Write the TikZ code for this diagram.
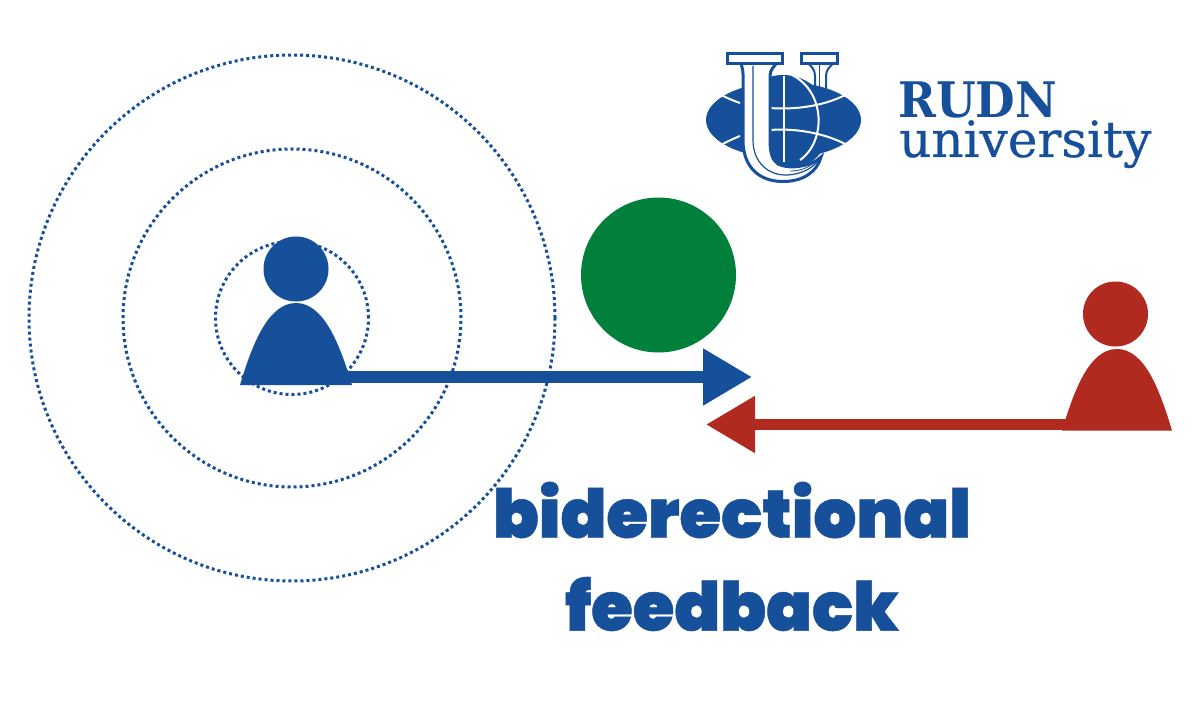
\documentclass[tikz,border=0pt]{standalone}
\usepackage{fontspec}
\usetikzlibrary{arrows.meta}
\setmainfont{Liberation Sans}
\newfontfamily\heavyfont[FakeBold=0.7]{Poppins Black}
\newfontfamily\slabfont{DejaVu Serif}
\newfontfamily\slabmedfont[FakeBold=0.5]{DejaVu Serif}
\definecolor{rblue}{HTML}{164F9A}
\definecolor{rgreen}{HTML}{00803B}
\definecolor{rred}{HTML}{B02A1F}
\tikzset{
  ring/.style={draw=rblue,line width=3pt,dash pattern=on 3pt off 3pt,circle,minimum size=#1,inner sep=0pt},
  head/.style={fill=#1,circle,minimum size=65pt,inner sep=0pt},
  flow/.style={draw=#1,line width=11.5pt,-{Triangle[length=49pt,width=54pt,fill=#1]}},
  title/.style={text=rblue,inner sep=0pt,font=\heavyfont\fontsize{67.5}{67.5}\selectfont},
  logobar/.style={draw=rblue,fill=white,line width=3pt},
  globeline/.style={draw=white,line width=2pt}
}
\begin{document}
\begin{tikzpicture}[x=1pt,y=-1pt]
\useasboundingbox (0,0) rectangle (1200,722);
% rings
\node[ring=526pt] (r3) at (292,318) {};
\node[ring=338pt] (r2) at (292,318) {};
\node[ring=153pt] (r1) at (292,318) {};
% blue person
\node[head=rblue] (bhead) at (296,269) {};
\fill[rblue] (240,385) .. controls (252,345) and (268,303) .. (296,303) .. controls (324,303) and (340,345) .. (352,385) -- cycle;
\coordinate (bbody) at (340,377);
% red person
\node[head=rred] (rhead) at (1115.5,314) {};
\fill[rred] (1062,430.5) .. controls (1074,391) and (1089,349) .. (1117,349) .. controls (1145,349) and (1160,391) .. (1172,430.5) -- cycle;
\coordinate (rbody) at (1070,424.5);
% green
\node[fill=rgreen,circle,minimum size=155pt,inner sep=0pt] (topic) at (658.5,275) {};
% arrows
\coordinate (bend) at (752,377);
\coordinate (rend) at (706,424.5);
\draw[flow=rblue] (bbody) -- (bend);
\draw[flow=rred] (rbody) -- (rend);
% title
\node[title] (t1) at (732,510) {biderectional};
\node[title] (t2) at (732,604) {feedback};
% logo: right stem of the letter
\draw[draw=rblue,fill=white,line width=2pt] (806,62) .. controls (812,66) and (815,70) .. (815,76) -- (815,92) -- (826,92) -- (826,76) .. controls (826,70) and (830,66) .. (835,62) -- cycle;
\draw[rblue,line width=1pt] (819,64) -- (819,90);
% logo: globe
\fill[rblue] (783.5,120) ellipse [x radius=77.5,y radius=38];
\fill[rblue] (783,123) circle [radius=48];
% parallels and meridians
\draw[globeline] (719,94) .. controls (727,98) and (734,101) .. (740,103);
\draw[globeline] (770,108) .. controls (795,110) and (825,106) .. (847,94);
\draw[globeline] (721,145) .. controls (728,141) and (735,138) .. (740,136);
\draw[globeline] (770,130) .. controls (795,128) and (825,133) .. (847,145);
\draw[globeline] (783.5,76) -- (783.5,162);
\draw[globeline] (792,75) .. controls (826,92) and (826,142) .. (800,160);
% logo: letter U
\draw[logobar] (741,62) .. controls (741,66) and (743,68) .. (743,74) -- (743,140) .. controls (743,168) and (760,181.5) .. (783,181.5) .. controls (803,181.5) and (817,172) .. (821,157)
  .. controls (812,166) and (790,170) .. (778,164) .. controls (772,160) and (770,152) .. (770,140) -- (770,76) .. controls (770,70) and (774,66) .. (778,62) -- cycle;
\draw[rblue,line width=1.2pt] (753,66) -- (753,140) .. controls (753,162) and (768,176) .. (788,175) .. controls (800,174) and (810,170) .. (817,162);
\draw[rblue,line width=.8pt] (790,171) .. controls (800,171) and (808,168) .. (815,162);
\draw[logobar] (727,53.5) rectangle (782,63.5);
\draw[logobar] (801,53.5) rectangle (837,63.5);
% logo: text
\node[text=rblue,inner sep=0pt,anchor=base west,font=\slabfont\bfseries\fontsize{49}{49}\selectfont,xscale=.93] (rudn) at (898,117.5) {RUDN};
\node[text=rblue,inner sep=0pt,anchor=base west,font=\slabmedfont\fontsize{50}{50}\selectfont] (univ) at (899,157) {university};
\end{tikzpicture}
\end{document}
